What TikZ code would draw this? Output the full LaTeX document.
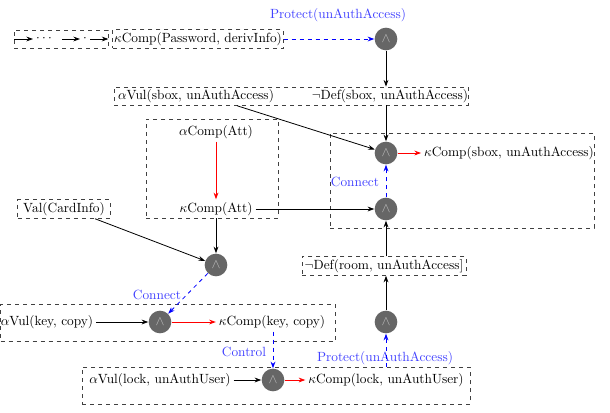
\documentclass[tikz,border=0pt]{standalone}
\usetikzlibrary{arrows.meta,fit,calc}
\begin{document}
\begin{tikzpicture}[x=0.75pt,y=-0.75pt,
  line width=0.6pt, >={Stealth[length=5pt,width=3.6pt]},
  dbox/.style={draw=black!75, dashed, inner sep=2pt, minimum height=13.5pt},
  txt/.style={inner sep=2pt},
  andn/.style={circle, fill=black!60, text=black!25, minimum size=17pt, inner sep=0pt},
  lbl/.style={text=blue!75, inner sep=1pt},
  arr/.style={->},
  redarr/.style={->, red},
  bluearr/.style={->, blue, dashed}]
\useasboundingbox (0,0) rectangle (610,412);

\node[dbox, minimum width=70.5pt] (chain) at (61,39) {};
\coordinate (c1) at (14,39);  \coordinate (c2) at (33,39);
\coordinate (c3) at (62,39);  \coordinate (c4) at (80,39);
\coordinate (c5) at (90,39);
\draw[arr] (c1) -- (c2);
\draw[arr] (c3) -- (c4);
\draw[arr] (c5) -- (chain.east);
\node[inner sep=0pt] (dots) at (44,39) {$\cdots$};
\node[inner sep=0pt] (dot) at (85,39) {$\cdot$};

\node[dbox, inner xsep=1pt] (pw) at (198,39) {$\kappa$Comp(Password, derivInfo)};
\node[andn] (A1) at (386,39) {$\wedge$};
\node[lbl] (l1) at (338,15) {Protect(unAuthAccess)};

\node[txt] (avs) at (196,96) {$\alpha$Vul(sbox, unAuthAccess)};
\node[txt] (nds) at (390,96) {$\neg$Def(sbox, unAuthAccess)};
\node[dbox, fit={(114,87) (468,105)}, inner sep=0pt] (sboxbox) {};

\node[andn] (A2) at (386,153) {$\wedge$};
\node[txt] (kcs) at (509,153) {$\kappa$Comp(sbox, unAuthAccess)};
\node[andn] (A3) at (386,209) {$\wedge$};
\node[dbox, fit={(330,133) (594,228)}, inner sep=0pt] (box2) {};
\node[lbl] (l2) at (355,182) {Connect};

\node[txt] (aatt) at (216,132) {$\alpha$Comp(Att)};
\node[txt] (katt) at (216,209) {$\kappa$Comp(Att)};
\node[dbox, fit={(146,119) (278,218)}, inner sep=0pt] (attbox) {};

\node[dbox, inner xsep=4pt] (val) at (64,209) {Val(CardInfo)};
\node[dbox] (room) at (384,266) {$\neg$Def(room, unAuthAccess]};
\node[andn] (A4) at (386,322) {$\wedge$};
\node[andn] (A5) at (216,265) {$\wedge$};
\node[andn] (A6) at (160,322) {$\wedge$};
\node[lbl] (l3) at (157,295) {Connect};

\node[txt] (avk) at (47,322) {$\alpha$Vul(key, copy)};
\node[txt] (kck) at (272,322) {$\kappa$Comp(key, copy)};
\node[dbox, fit={(0.5,304) (335,341)}, inner sep=0pt] (keybox) {};
\node[lbl] (l4) at (244,352) {Control};

\node[andn] (A7) at (273,380) {$\wedge$};
\node[txt] (avl) at (160,380) {$\alpha$Vul(lock, unAuthUser)};
\node[txt] (kcl) at (386,380) {$\kappa$Comp(lock, unAuthUser)};
\node[dbox, fit={(82,367) (470,404)}, inner sep=0pt] (lockbox) {};
\node[lbl] (l5) at (385,358) {Protect(unAuthAccess)};

\draw[bluearr] (pw) -- (A1);
\draw[arr] (A1) -- (A1 |- sboxbox.north);
\draw[arr] (A2 |- sboxbox.south) -- (A2);
\draw[arr] ($(avs.south)+(41,0)$) -- (A2);
\draw[redarr] (A2) -- (kcs);
\draw[bluearr] (A3) -- (A2);
\draw[redarr] (aatt) -- (katt);
\draw[arr] (katt) -- (A3);
\draw[arr] (katt.south |- attbox.south) -- (A5);
\draw[arr] ($(val.south)+(31,0)$) -- (A5);
\draw[arr] (A3 |- room.north) -- (A3);
\draw[arr] (A4) -- (A4 |- room.south);
\draw[bluearr] (A4 |- lockbox.north) -- (A4);
\draw[bluearr] (A5) -- (A6);
\draw[arr] (avk) -- (A6);
\draw[redarr] (A6) -- (kck);
\draw[bluearr] (kck.south -| A7) -- (A7);
\draw[arr] (avl) -- (A7);
\draw[redarr] (A7) -- (kcl);
\end{tikzpicture}
\end{document}
